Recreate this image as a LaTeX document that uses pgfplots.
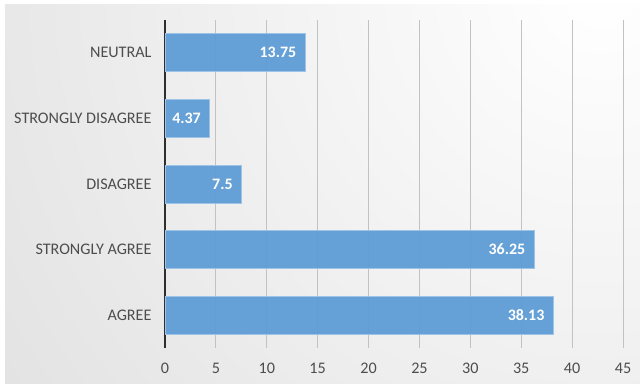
\documentclass[border=0pt]{standalone}
\usepackage{fontspec}
\setmainfont{Carlito}
\usepackage{pgfplots}
\usepackage{pgfplotstable}
\pgfplotsset{compat=1.18}

\definecolor{barblue}{HTML}{5B9BD5}
\definecolor{baredge}{HTML}{9DC3E6}
\definecolor{bggray}{HTML}{C0C0C0}
\definecolor{gridgray}{HTML}{C2C2C2}
\definecolor{labelgray}{HTML}{4D4D4D}
\definecolor{axisdark}{HTML}{2E2E2E}

% responses (percent); y is the row position from the bottom
\pgfplotstableread{
y  pct    lbl
0  38.13  38.13
1  36.25  36.25
2  7.5    7.5
3  4.37   4.37
4  13.75  13.75
}\responses

\begin{document}
\begin{tikzpicture}[x=1bp,y=1bp]
  % soft radial background, light in the upper right, thin white frame
  \fill[white] (0,0) rectangle (640,385);
  \begin{scope}
    \clip (5,2) rectangle (640,380);
    \shade[inner color=white, outer color=bggray] (600,395) circle (1600);
  \end{scope}
  \begin{axis}[
    at={(165bp,37bp)}, anchor=south west,
    scale only axis, width=458bp, height=328bp,
    xbar, bar width=38bp,
    xmin=0, xmax=45, ymin=-0.5, ymax=4.5,
    xtick={0,5,...,45},
    ytick={0,1,2,3,4},
    yticklabels={AGREE,STRONGLY AGREE,DISAGREE,STRONGLY DISAGREE,NEUTRAL},
    axis lines*=left,
    x axis line style={draw=none},
    y axis line style={draw=axisdark, line width=2bp},
    major tick length=0pt,
    xmajorgrids, grid style={gridgray, line width=0.9bp},
    /pgf/number format/assume math mode=true,
    tick label style={font=\fontsize{16.2}{19}\selectfont, text=labelgray},
    xticklabel style={yshift=-12bp},
    yticklabel style={xshift=-10bp},
    point meta=explicit symbolic,
    nodes near coords,
    nodes near coords style={anchor=east, xshift=-5bp, text=white,
      font=\fontsize{16}{19}\selectfont\bfseries},
    clip=false,
  ]
    \addplot[fill=barblue, fill opacity=0.93, text opacity=1, draw=baredge, line width=0.8bp]
      table[x=pct, y=y, meta=lbl] {\responses};
  \end{axis}
\end{tikzpicture}
\end{document}
